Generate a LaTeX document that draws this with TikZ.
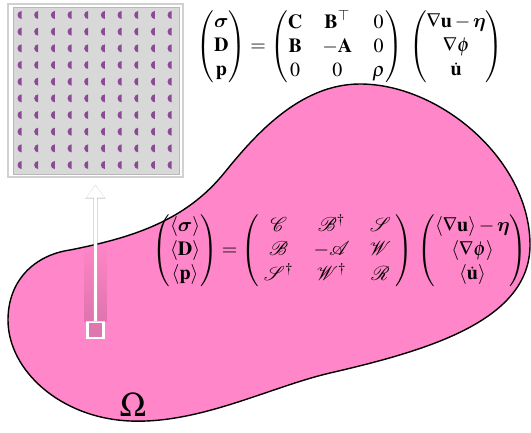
\documentclass[tikz,border=0pt]{standalone}
\usepackage{amsmath,amssymb,mathrsfs}
\usepackage{mathptmx}
\usepackage{tikz}
\usetikzlibrary{arrows.meta, positioning, fadings}
\DeclareSymbolFont{cmbold}{OML}{cmm}{b}{it}
\DeclareMathSymbol{\bsigma}{\mathord}{cmbold}{"1B}
\DeclareMathSymbol{\beeta}{\mathord}{cmbold}{"11}
\definecolor{blobpink}{RGB}{255,134,200}
\definecolor{cellgray}{RGB}{216,216,216}
\definecolor{dotpurple}{RGB}{140,74,150}
\newcommand{\avg}[1]{\langle #1\rangle}

\begin{document}
\begin{tikzpicture}[x=0.5pt,y=-0.5pt]
\tikzstyle{eq} = [inner sep=0pt]
\tikzstyle{frame} = [draw=black!18, fill=white, line width=0.6pt, minimum width=87.5pt, minimum height=86.5pt]
\tikzstyle{cell} = [draw=black!28, fill=cellgray, line width=0.4pt]
\tikzstyle{probe} = [draw=white, line width=1.1pt, fill=blobpink!88!black, minimum size=8pt, inner sep=0pt]
\tikzstyle{arrow} = [white, line width=1.5pt, -{Triangle[width=8.5pt,length=6pt]}, shorten >=4pt]
\tikzstyle{arrowshadow} = [black!30, opacity=0.45, line width=2.3pt, -{Triangle[width=10pt,length=7.2pt]}, shorten >=3.5pt]
\useasboundingbox (0,0) rectangle (531,433);
\filldraw[fill=blobpink, draw=black, line width=0.7pt]
  (225,172) .. controls (255,135) and (300,84) .. (360,84)
  .. controls (440,84) and (530,160) .. (530,245)
  .. controls (530,320) and (430,350) .. (330,373)
  .. controls (270,387) and (200,424) .. (130,421)
  .. controls (60,418) and (8,370) .. (8,320)
  .. controls (8,280) and (35,255) .. (70,250)
  .. controls (130,238) and (185,222) .. (225,172) -- cycle;
\node (inset) [frame] at (95.5,90.5) {};
\draw[cell] (13,7) rectangle (179,174);
\foreach \i in {0,...,9}
  \foreach \j in {0,...,9}
    \fill[dotpurple] ({21.5+16.67*\i},{15+16.67*\j}) -- ++(0,4) arc[start angle=90,end angle=270,radius=4] -- cycle;
\node (probe) [probe] at (95.5,330) {};
\fill[black, opacity=0.13, path fading=north] (84,322) rectangle (107,245);
\draw[arrowshadow] (probe) -- (inset);
\draw[arrow] (probe) -- (inset);
\node (fine) [eq] at (350,47) {$\begin{pmatrix}\bsigma\\ \mathbf{D}\\ \mathbf{p}\end{pmatrix}
  = \begin{pmatrix}\mathbf{C} & \mathbf{B}^{\top} & 0\\ \mathbf{B} & -\mathbf{A} & 0\\ 0 & 0 & \rho\end{pmatrix}\;
  \begin{pmatrix}\nabla\mathbf{u}-\beeta\\ \nabla\phi\\ \dot{\mathbf{u}}\end{pmatrix}$};
\node (coarse) [eq] at (340,251) {$\begin{pmatrix}\avg{\bsigma}\\ \avg{\mathbf{D}}\\ \avg{\mathbf{p}}\end{pmatrix}
  = \begin{pmatrix}\;\mathscr{C} & \mathscr{B}^{\dagger} & \mathscr{S}\;\\ \;\mathscr{B} & -\mathscr{A} & \mathscr{W}\;\\ \;\mathscr{S}^{\dagger} & \mathscr{W}^{\dagger} & \mathscr{R}\;\end{pmatrix}\,
  \begin{pmatrix}\avg{\nabla\mathbf{u}}-\beeta\\ \avg{\nabla\phi}\\ \avg{\dot{\mathbf{u}}}\end{pmatrix}$};
\node (domain) [font=\LARGE] at (133,405) {$\Omega$};
\end{tikzpicture}
\end{document}
